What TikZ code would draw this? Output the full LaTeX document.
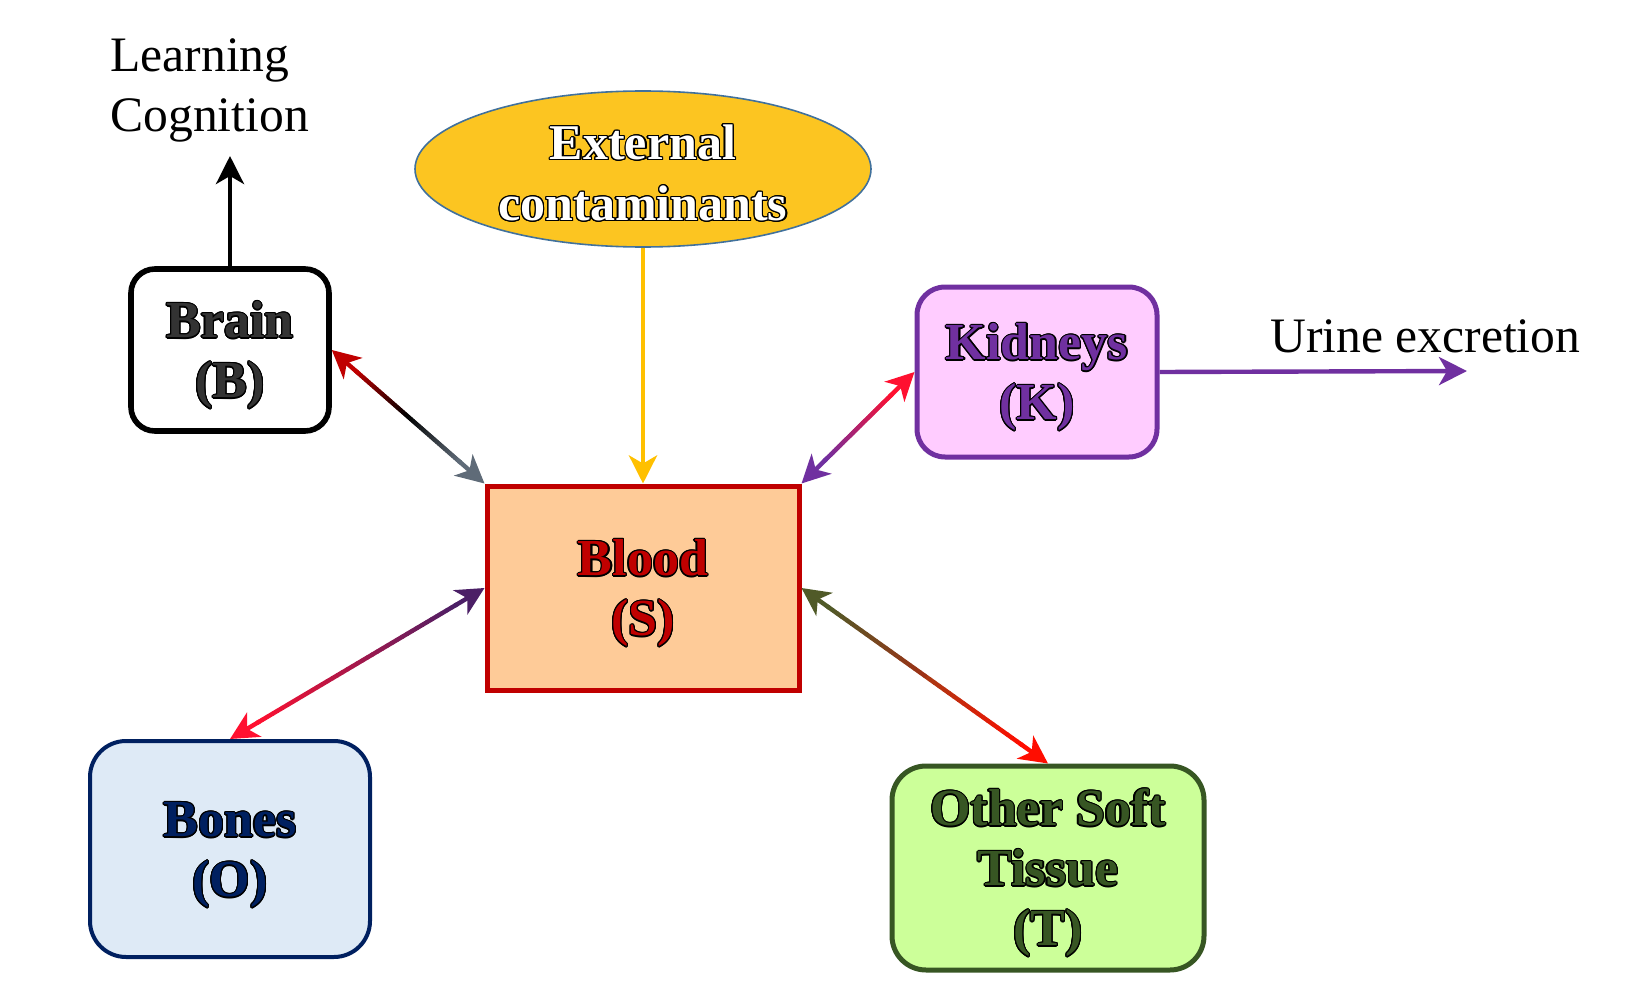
\documentclass[tikz,border=0pt]{standalone}
\usepackage{fontspec}
\setmainfont{Liberation Serif}
\usepackage{xcolor}
\usepackage[copies]{contour}
\contourlength{0.6pt}
\usetikzlibrary{shapes.geometric,calc,arrows.meta}

\definecolor{brainink}{HTML}{333333}
\definecolor{extfill}{HTML}{FCC521}
\definecolor{extline}{HTML}{41719C}
\definecolor{bloodfill}{HTML}{FECB98}
\definecolor{bloodline}{HTML}{C00000}
\definecolor{kidfill}{HTML}{FFCCFF}
\definecolor{kidline}{HTML}{7030A0}
\definecolor{bonefill}{HTML}{DEEAF6}
\definecolor{boneline}{HTML}{002060}
\definecolor{tissfill}{HTML}{CCFF99}
\definecolor{tissline}{HTML}{375623}
\definecolor{feed}{HTML}{FFC000}
\definecolor{hotred}{HTML}{FF1030}
\definecolor{slate}{HTML}{5F6B78}
\definecolor{plum}{HTML}{4B1F66}
\definecolor{moss}{HTML}{505A28}

% outlined label text
\newcommand{\rim}[1]{\contour{black}{#1}}
% strut that pushes the first line of a box label down a little
\newcommand{\lift}{\rule{0pt}{24pt}}

% two-headed link whose colour runs from #3 (at #1) over #4 to #5 (at #2)
\newcommand{\shadedlink}[5]{%
  \path ($(#1)!16pt!(#2)$) coordinate (l0) ($(#2)!16pt!(#1)$) coordinate (l1);
  \foreach \k in {0,...,39}{
    \pgfmathsetmacro{\ta}{\k/40}
    \pgfmathsetmacro{\tb}{(\k+1)/40}
    \pgfmathtruncatemacro{\pp}{mod(\k,20)*5+2}
    \ifnum\k<20 \def\cc{#4!\pp!#3}\else\def\cc{#5!\pp!#4}\fi
    \draw[link, draw=\cc] ($(l0)!\ta!(l1)$) -- ($(l0)!\tb!(l1)$);
  }
  \draw[link, draw=#3, ->] ($(#1)!17pt!(#2)$) -- (#1);
  \draw[link, draw=#5, ->] ($(#2)!17pt!(#1)$) -- (#2);
}

\tikzset{
  organ/.style={rounded corners=14pt, line width=2.5pt, align=center,
    inner sep=0pt, font=\fontsize{26}{30}\selectfont\bfseries},
  link/.style={line width=2.2pt, line cap=round},
  plain/.style={align=left, inner sep=0pt, font=\fontsize{24.8}{30}\selectfont},
}

\begin{document}
\begin{tikzpicture}[x=0.5pt,y=-0.5pt,>={Stealth[length=14pt,width=14pt,inset=4pt]}]
\useasboundingbox (0,0) rectangle (1629,990);

% compartments
\node[organ, draw=black, line width=2.8pt, fill=white, text=brainink,
  minimum width=99pt, minimum height=81pt, rounded corners=12pt] (brain) at (230,350)
  {\lift\rim{Brain}\\\rim{(B)}};
\node[ellipse, draw=extline, line width=0.8pt, fill=extfill, text=white, inner sep=0pt,
  minimum width=228pt, minimum height=78pt, align=center,
  font=\fontsize{25}{30.5}\selectfont\bfseries] (ext) at (643,169)
  {\rule{0pt}{22pt}\rim{External}\\\rim{contaminants}};
\node[organ, draw=bloodline, fill=bloodfill, text=bloodline, rounded corners=0pt,
  minimum width=156pt, minimum height=102pt] (blood) at (643,588)
  {\lift\rim{Blood}\\\rim{(S)}};
\node[organ, draw=kidline, fill=kidfill, text=kidline,
  minimum width=120pt, minimum height=85pt] (kid) at (1037,372)
  {\lift\rim{Kidneys}\\\rim{(K)}};
\node[organ, draw=boneline, fill=bonefill, text=boneline, line width=2pt,
  minimum width=140pt, minimum height=108pt, rounded corners=18pt] (bones) at (230,849)
  {\lift\rim{Bones}\\\rim{(O)}};
\node[organ, draw=tissline, fill=tissfill, text=tissline,
  minimum width=156pt, minimum height=102pt, rounded corners=17pt] (tiss) at (1048,868)
  {\lift\rim{Other Soft}\\\rim{Tissue}\\\rim{(T)}};

% outputs
\coordinate (cog) at (230,156);
\coordinate (urine) at (1467,371);
\node[plain, anchor=west] (learn) at (110,90) {Learning\\Cognition};
\node[plain, anchor=west] (urtext) at (1270,336) {Urine excretion};
\draw[line width=2.2pt, ->] (brain.north) -- (cog);
\draw[line width=2.2pt, draw=kidline, ->] (kid.east) -- (urine);

% input
\draw[line width=2.4pt, draw=feed, ->] (ext.south) -- (blood.north);

% exchange with blood
\shadedlink{brain.east}{blood.north west}{bloodline}{black}{slate}
\shadedlink{kid.west}{blood.north east}{hotred}{hotred!50!kidline}{kidline}
\shadedlink{bones.north}{blood.west}{hotred}{hotred!50!plum}{plum}
\shadedlink{tiss.north}{blood.east}{red!90!orange}{red!45!moss}{moss}
\end{tikzpicture}
\end{document}
